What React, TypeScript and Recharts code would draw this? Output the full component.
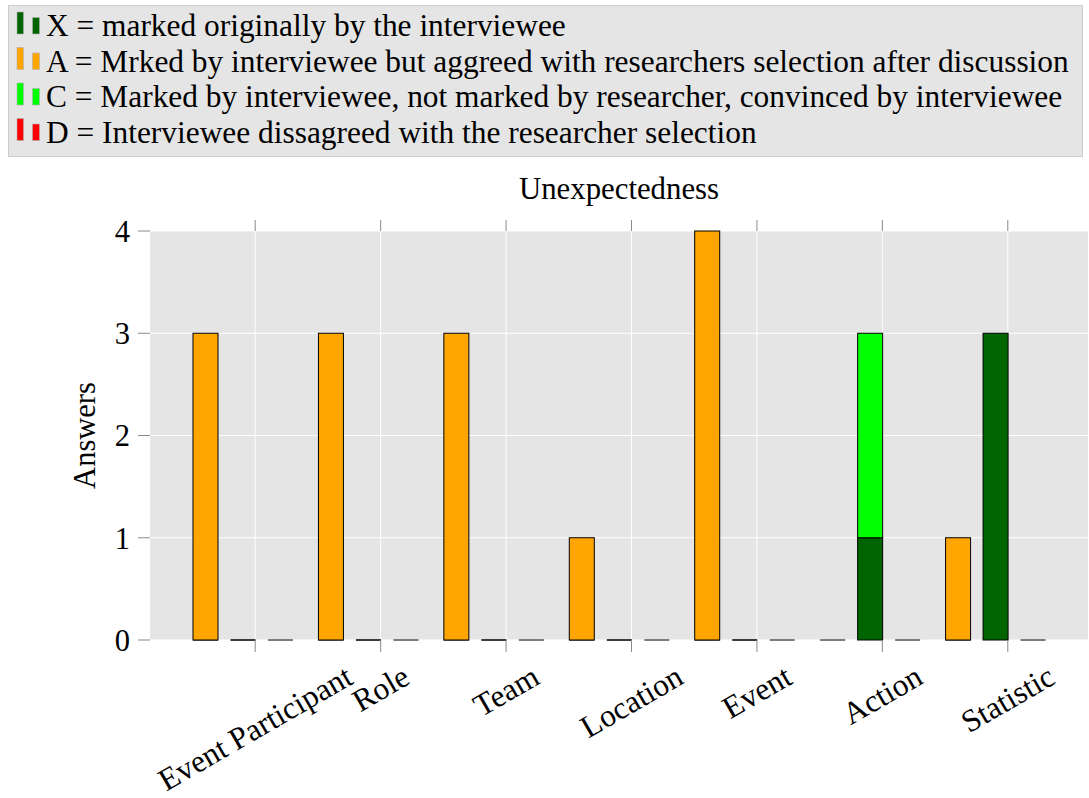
import React from 'react';
import { BarChart, Bar, XAxis, YAxis, CartesianGrid, Label } from 'recharts';

const CATEGORIES = ['Event Participant', 'Role', 'Team', 'Location', 'Event', 'Action', 'Statistic'];

// three bars per category, each one a stack of X / A / C / D
const X1 = [0, 0, 0, 0, 0, 0, 0];
const A1 = [3, 3, 3, 1, 4, 0, 1];
const C1 = [0, 0, 0, 0, 0, 0, 0];
const D1 = [0, 0, 0, 0, 0, 0, 0];

const X2 = [0, 0, 0, 0, 0, 1, 3];
const A2 = [0, 0, 0, 0, 0, 0, 0];
const C2 = [0, 0, 0, 0, 0, 2, 0];
const D2 = [0, 0, 0, 0, 0, 0, 0];

const X3 = [0, 0, 0, 0, 0, 0, 0];
const A3 = [0, 0, 0, 0, 0, 0, 0];
const C3 = [0, 0, 0, 0, 0, 0, 0];
const D3 = [0, 0, 0, 0, 0, 0, 0];

const Y_TICKS = [0, 1, 2, 3, 4];

const SERIES = [
  { key: 'X', color: '#006400', label: 'X = marked originally by the interviewee' },
  { key: 'A', color: '#ffa500', label: 'A = Mrked by interviewee but aggreed with researchers selection after discussion' },
  { key: 'C', color: '#00ff00', label: 'C = Marked by interviewee, not marked by researcher, convinced by interviewee' },
  { key: 'D', color: '#ff0000', label: 'D = Interviewee dissagreed with the researcher selection' },
];

const SLOTS = [
  { id: 1, values: { X: X1, A: A1, C: C1, D: D1 }, zero: '#7c7c7c' },
  { id: 2, values: { X: X2, A: A2, C: C2, D: D2 }, zero: '#3a3a3a' },
  { id: 3, values: { X: X3, A: A3, C: C3, D: D3 }, zero: '#7c7c7c' },
];

const data = CATEGORIES.map((name, i) => {
  const row: Record<string, any> = { name };
  SLOTS.forEach((s) => {
    SERIES.forEach((ser) => {
      row[ser.key + s.id] = (s.values as any)[ser.key][i];
    });
  });
  return row;
});

const FONT = '"Liberation Serif", "Times New Roman", serif';
const PAD = 30;
const TICK_SHIFT = 12.5;
const TICK_COLOR = '#8a8a8a';
const LABEL_SIZE = 31.5;

let canvas: HTMLCanvasElement | null = null;
function textWidth(t: string, size: number) {
  if (!canvas) canvas = document.createElement('canvas');
  const ctx = canvas.getContext('2d');
  if (!ctx) return t.length * size * 0.45;
  ctx.font = `${size}px "Liberation Serif"`;
  return ctx.measureText(t).width;
}

const barShape = (zeroStroke?: string) => (props: any) => {
  const { x, y, width, height, fill } = props;
  if (!height || Math.abs(height) < 0.5) {
    if (!zeroStroke) return <g />;
    return <line x1={x} x2={x + width} y1={y} y2={y} stroke={zeroStroke} strokeWidth={2} />;
  }
  return <rect x={x} y={y} width={width} height={height} fill={fill} stroke="#000" strokeWidth={1} />;
};

const BottomTick = (props: any) => {
  const { x, y, payload } = props;
  const cx = x + TICK_SHIFT;
  const label = String(payload.value);
  const w = textWidth(label, LABEL_SIZE);
  const a = (30 * Math.PI) / 180;
  const boxH = w * Math.sin(a) + 20 * Math.cos(a);
  const cy = y + 25 + boxH / 2;
  return (
    <g>
      <line x1={cx} x2={cx} y1={y} y2={y + 12} stroke={TICK_COLOR} strokeWidth={1} />
      <text
        x={cx}
        y={cy}
        textAnchor="middle"
        dominantBaseline="central"
        fontFamily={FONT}
        fontSize={LABEL_SIZE}
        fill="#000"
        transform={`rotate(-30, ${cx}, ${cy})`}
      >
        {label}
      </text>
    </g>
  );
};

const TopTick = (props: any) => {
  const { x, y } = props;
  const cx = x + TICK_SHIFT;
  return <line x1={cx} x2={cx} y1={y - 11} y2={y} stroke={TICK_COLOR} strokeWidth={1} />;
};

function LegendBox() {
  return (
    <svg width={1089} height={160} style={{ position: 'absolute', left: 0, top: 0, pointerEvents: 'none' }}>
      <rect x={8.5} y={5.5} width={1074} height={151} fill="#e5e5e5" stroke="#cccccc" />
      {SERIES.map((s, i) => {
        const base = 36 + i * 35.5;
        return (
          <g key={s.key}>
            <rect x={17} y={base - 24} width={6.5} height={22} fill={s.color} stroke="#b0b0b0" strokeWidth={0.6} />
            <rect x={32.5} y={base - 18.5} width={7} height={16.5} fill={s.color} stroke="#b0b0b0" strokeWidth={0.6} />
            <text x={46} y={base} fontFamily={FONT} fontSize={31.4} fill="#000">
              {s.label}
            </text>
          </g>
        );
      })}
    </svg>
  );
}

export default function App() {
  return (
    <div style={{ position: 'absolute', left: 0, top: 0, width: 1089, height: 798, background: '#fff' }}>
      <BarChart
        width={1089}
        height={798}
        data={data}
        margin={{ top: 191, right: 1, bottom: 0, left: 90 }}
        barSize={25}
        barGap={12.5}
      >
        <CartesianGrid
          fill="#e5e5e5"
          fillOpacity={1}
          stroke="#ffffff"
          strokeWidth={1}
          verticalCoordinatesGenerator={({ offset }: any) => {
            const band = (offset.width - PAD * 2) / CATEGORIES.length;
            return CATEGORIES.map((_, i) => offset.left + PAD + band * (i + 0.5) + TICK_SHIFT);
          }}
        />
        <XAxis
          xAxisId="top"
          orientation="top"
          dataKey="name"
          height={40}
          padding={{ left: PAD, right: PAD }}
          axisLine={false}
          tickLine={false}
          tickSize={0}
          tickMargin={0}
          interval={0}
          tick={<TopTick />}
        >
          <Label
            content={({ viewBox }: any) => (
              <text
                x={viewBox.x + viewBox.width / 2}
                y={viewBox.y + 8}
                textAnchor="middle"
                fontFamily={FONT}
                fontSize={30.8}
                fill="#000"
              >
                Unexpectedness
              </text>
            )}
          />
        </XAxis>
        <XAxis
          dataKey="name"
          height={158}
          padding={{ left: PAD, right: PAD }}
          axisLine={false}
          tickLine={false}
          tickSize={0}
          tickMargin={0}
          interval={0}
          tick={<BottomTick />}
        />
        <YAxis
          width={60}
          domain={[0, 4]}
          ticks={Y_TICKS}
          axisLine={false}
          tickSize={12}
          tickMargin={8}
          tickLine={{ stroke: TICK_COLOR }}
          tick={{ fontFamily: FONT, fontSize: 30.5, fill: '#000' }}
        >
          <Label
            content={({ viewBox }: any) => {
              const cx = viewBox.x - 5;
              const cy = viewBox.y + viewBox.height / 2;
              return (
                <text
                  x={cx}
                  y={cy}
                  textAnchor="middle"
                  dominantBaseline="central"
                  fontFamily={FONT}
                  fontSize={30.5}
                  fill="#000"
                  transform={`rotate(-90, ${cx}, ${cy})`}
                >
                  Answers
                </text>
              );
            }}
          />
        </YAxis>
        {SLOTS.map((s) =>
          SERIES.map((ser) => (
            <Bar
              key={ser.key + s.id}
              dataKey={ser.key + s.id}
              stackId={'slot' + s.id}
              fill={ser.color}
              isAnimationActive={false}
              shape={barShape(ser.key === 'X' ? s.zero : undefined)}
            />
          ))
        )}
      </BarChart>
      <LegendBox />
    </div>
  );
}
